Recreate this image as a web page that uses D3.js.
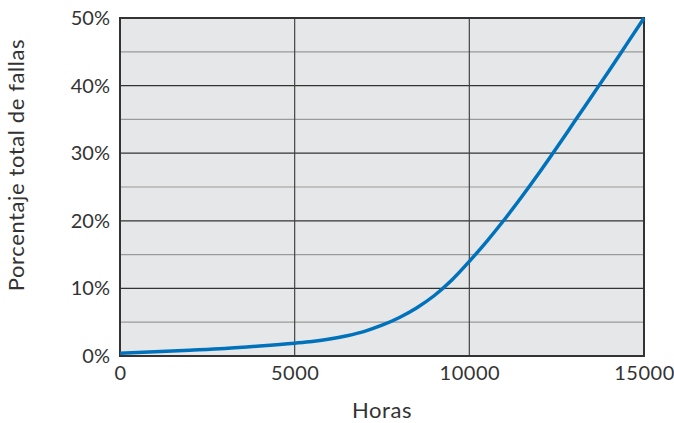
<!DOCTYPE html>
<html>
<head>
<meta charset="utf-8">
<script src="https://cdn.jsdelivr.net/npm/d3@7"></script>
<style>
  body { margin: 0; background: #fff; }
  text { font-family: Lato, "Open Sans", sans-serif; fill: #333; }
</style>
</head>
<body>
<div></div>
<script>
// data
var hours = [0, 1000, 2000, 3000, 4000, 5000, 5500, 6000, 6500, 7000, 7500, 8000, 8500, 9000, 9500,
             10000, 10500, 11000, 11500, 12000, 12500, 13000, 13500, 14000, 14500, 15000];
var failPct = [0.4, 0.62, 0.86, 1.12, 1.48, 1.9, 2.15, 2.5, 3.0, 3.65, 4.55, 5.7, 7.15, 8.95, 11.25,
               14.0, 16.97, 20.15, 23.55, 27.1, 30.8, 34.6, 38.4, 42.2, 46.1, 50.0];
var xTicks = [0, 5000, 10000, 15000];
var yTicks = [0, 10, 20, 30, 40, 50];
var yMinor = [5, 15, 25, 35, 45];

var margin = {top: 18, right: 30, bottom: 67, left: 120},
    width = 674 - margin.left - margin.right,
    height = 423 - margin.top - margin.bottom;

var x = d3.scaleLinear().domain([0, 15000]).range([0, width]);
var y = d3.scaleLinear().domain([0, 50]).range([height, 0]);

var svg = d3.select("body").select("div").append("svg")
    .attr("width", 674)
    .attr("height", 423)
  .append("g")
    .attr("transform", "translate(" + margin.left + "," + margin.top + ")");

// plot background
svg.append("rect")
    .attr("width", width)
    .attr("height", height)
    .attr("fill", "#e6e7e8");

// minor horizontal grid
svg.selectAll(".minor").data(yMinor).enter().append("line")
    .attr("x1", 0).attr("x2", width)
    .attr("y1", function(d) { return y(d); })
    .attr("y2", function(d) { return y(d); })
    .attr("stroke", "#9a9a9a").attr("stroke-width", 1.2);

// major horizontal grid
svg.selectAll(".major").data(yTicks.slice(1, -1)).enter().append("line")
    .attr("x1", 0).attr("x2", width)
    .attr("y1", function(d) { return y(d); })
    .attr("y2", function(d) { return y(d); })
    .attr("stroke", "#333").attr("stroke-width", 1.2);

// vertical grid
svg.selectAll(".vgrid").data(xTicks.slice(1, -1)).enter().append("line")
    .attr("y1", 0).attr("y2", height)
    .attr("x1", function(d) { return x(d); })
    .attr("x2", function(d) { return x(d); })
    .attr("stroke", "#444").attr("stroke-width", 1.2);

// frame
svg.append("rect")
    .attr("width", width)
    .attr("height", height)
    .attr("fill", "none")
    .attr("stroke", "#333")
    .attr("stroke-width", 2);

// the curve
var valueline = d3.line()
    .x(function(d, i) { return x(hours[i]); })
    .y(function(d) { return y(d); })
    .curve(d3.curveMonotoneX);

svg.append("path")
    .datum(failPct)
    .attr("d", valueline)
    .attr("fill", "none")
    .attr("stroke", "#0072bc")
    .attr("stroke-width", 3.5);

// axes (labels only)
var xAxis = svg.append("g")
    .attr("transform", "translate(0," + height + ")")
    .call(d3.axisBottom(x).tickValues(xTicks).tickSize(0).tickPadding(10).tickFormat(d3.format("d")));
xAxis.select(".domain").remove();
xAxis.selectAll("text").style("font-size", "20px").style("letter-spacing", "0.5px").attr("fill", "#333");

var yAxis = svg.append("g")
    .call(d3.axisLeft(y).tickValues(yTicks).tickSize(0).tickPadding(10).tickFormat(function(d) { return d + "%"; }));
yAxis.select(".domain").remove();
yAxis.selectAll("text").style("font-size", "20px").attr("fill", "#333");

// axis titles
svg.append("text")
    .attr("x", width / 2)
    .attr("y", height + 62)
    .attr("text-anchor", "middle")
    .style("font-size", "22px")
    .style("letter-spacing", "0.6px")
    .text("Horas");

svg.append("text")
    .attr("transform", "rotate(-90)")
    .attr("x", -147)
    .attr("y", -96)
    .attr("text-anchor", "middle")
    .style("font-size", "22px")
    .style("letter-spacing", "0.6px")
    .text("Porcentaje total de fallas");
</script>
</body>
</html>
